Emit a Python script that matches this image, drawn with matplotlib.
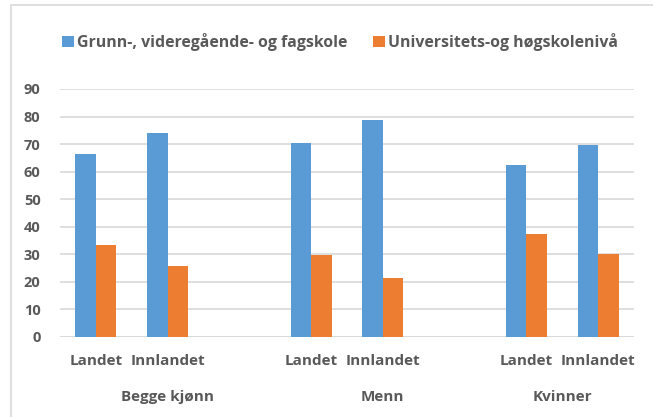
import numpy as np
import matplotlib
matplotlib.use("Agg")
import matplotlib.pyplot as plt
from matplotlib.patches import Rectangle
from matplotlib.transforms import blended_transform_factory

# ── data ──────────────────────────────────────────────────────────────────────
groups = ["Begge kjønn", "Menn", "Kvinner"]
regions = ["Landet", "Innlandet"]
grunnskole = [66.4, 74.1, 70.4, 78.7, 62.5, 69.7]
universitet = [33.3, 25.8, 29.6, 21.3, 37.4, 30.3]
series_names = ["Grunn-, videregående- og fagskole", "Universitets-og høgskolenivå"]

BLUE = "#5B9BD5"
ORANGE = "#ED7D31"
GREY_TXT = "#595959"
GRID = "#D9D9D9"

plt.rcParams["font.family"] = ["Open Sans", "DejaVu Sans"]
plt.rcParams["font.weight"] = "bold"

# category slots: Landet, Innlandet, (blank) per group, last group has no blank
slots = [0, 1, 3, 4, 6, 7]
group_centres = [1, 4, 6.5]
tick_labels = regions * len(groups)

fig = plt.figure(figsize=(6.53, 4.17), dpi=100)
ax = fig.add_axes([60 / 653, 1 - 337 / 417, 574 / 653, 248 / 417])

# chart frame (only top and left visible in the reference crop)
fig.patches.append(Rectangle((11 / 653, -0.1), 1.2, 1 - 5 / 417 + 0.1,
                             transform=fig.transFigure, fill=False,
                             edgecolor="#D9D9D9", linewidth=1.2))

x = np.array(slots, dtype=float)
w = 0.285
ax.bar(x - w / 2, grunnskole, w, color=BLUE, label=series_names[0], zorder=3)
ax.bar(x + w / 2, universitet, w, color=ORANGE, label=series_names[1], zorder=3)

ax.set_xlim(-0.5, 7.5)
ax.set_ylim(0, 90)
ax.set_yticks(range(0, 91, 10))
ax.yaxis.grid(True, color=GRID, linewidth=1.2, zorder=0)
ax.set_axisbelow(True)
for s in ax.spines.values():
    s.set_visible(False)
ax.axhline(0, color=GRID, linewidth=1.2, zorder=2)

ax.tick_params(axis="y", length=0, pad=14, labelsize=10.5, labelcolor=GREY_TXT)
ax.set_xticks(x)
ax.set_xticklabels(tick_labels)
ax.tick_params(axis="x", length=0, pad=12, labelsize=11, labelcolor=GREY_TXT)
for lab in ax.get_yticklabels() + ax.get_xticklabels():
    lab.set_fontweight("bold")

trans = blended_transform_factory(ax.transData, ax.transAxes)
for g, c in zip(groups, group_centres):
    ax.text(c, -0.24, g, transform=trans, ha="center", va="center",
            fontsize=11, fontweight="bold", color=GREY_TXT)

leg = fig.legend(loc="center", bbox_to_anchor=(340 / 653, 1 - 42 / 417), ncol=2,
                 frameon=False, fontsize=11.4, handlelength=0.75, handleheight=0.75,
                 handletextpad=0.2, columnspacing=1.6)
for t in leg.get_texts():
    t.set_color(GREY_TXT)
    t.set_fontweight("bold")

fig.savefig("out.png", dpi=100)
